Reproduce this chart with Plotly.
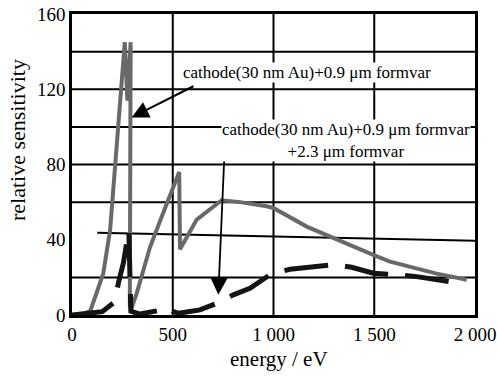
import plotly.graph_objects as go

# Gray series: cathode(30 nm Au)+0.9 µm formvar
e1 = [40, 90, 122, 155, 189, 213, 230, 250, 262, 275, 291, 287, 298, 321, 387, 437, 486, 532, 536,
      619, 743, 834, 966, 999, 1165, 1314, 1495, 1578, 1810, 1959]
s1 = [0, 2, 11.7, 22, 45, 77, 98, 125, 145, 114, 145, 5, 4.4, 11.5, 36, 50, 63, 76, 35,
      50.7, 61, 60, 57.8, 56.9, 47, 40, 32, 28.4, 22, 18.7]

# Black dashed series: + 2.3 µm formvar
e2 = [0, 150, 213, 230, 255, 278, 282, 292, 337, 486, 500, 528, 635, 718, 801, 883, 991, 1082,
      1297, 1388, 1495, 1620, 1711, 1926]
s2 = [0, 1.8, 7, 17, 27.6, 45, 45, 2, 0.5, 3.5, 2, 0.9, 2.7, 6.2, 10.7, 14.2, 22, 24.3,
      26.7, 25.4, 22.2, 21.3, 20.4, 16.9]

x_ticks = [0, 500, 1000, 1500, 2000]
x_ticktext = ["0", "500", "1 000", "1 500", "2 000"]
y_ticks = [0, 40, 80, 120, 160]
h_grid = [20, 60, 80, 100, 120, 140]
v_grid = [500, 1000, 1500]

FONT = "Liberation Serif"

fig = go.Figure()
fig.add_trace(go.Scatter(x=e1, y=s1, mode="lines",
                         line=dict(color="#696969", width=4), showlegend=False))
fig.add_trace(go.Scatter(x=e2, y=s2, mode="lines",
                         line=dict(color="#141414", width=5, dash="44px,17px"), showlegend=False))

shapes = []
for v in h_grid:
    shapes.append(dict(type="line", xref="x", yref="y", x0=0, x1=2000, y0=v, y1=v,
                       line=dict(color="black", width=2), layer="below"))
# slightly tilted 40 line in the scan
shapes.append(dict(type="line", xref="x", yref="y", x0=125, x1=2000, y0=43.7, y1=39.5,
                   line=dict(color="black", width=2), layer="below"))
for v in v_grid:
    shapes.append(dict(type="line", xref="x", yref="y", x0=v, x1=v, y0=0, y1=160,
                       line=dict(color="black", width=2), layer="below"))

annotations = [
    dict(x=296, y=105, ax=610, ay=122, xref="x", yref="y", axref="x", ayref="y",
         text="", showarrow=True, arrowhead=2, arrowsize=1.7, arrowwidth=2, arrowcolor="black"),
    dict(x=726, y=10.7, ax=759, ay=91.7, xref="x", yref="y", axref="x", ayref="y",
         text="", showarrow=True, arrowhead=2, arrowsize=1.9, arrowwidth=1.8, arrowcolor="black"),
    dict(x=1168, y=129, xref="x", yref="y", showarrow=False,
         text="cathode(30 nm Au)+0.9 μm formvar", bgcolor="white", borderpad=0,
         font=dict(family=FONT, size=17, color="black")),
    dict(x=1359, y=92.8, xref="x", yref="y", showarrow=False, align="center",
         text="cathode(30 nm Au)+0.9 μm formvar<br>+2.3 μm formvar", bgcolor="white", borderpad=0,
         font=dict(family=FONT, size=17, color="black")),
    # axis titles
    dict(x=(279 - 72) / 403, y=(315 - 359) / 301, xref="paper", yref="paper", showarrow=False,
         xanchor="center", yanchor="middle", text="energy / eV",
         font=dict(family=FONT, size=21, color="black")),
    dict(x=(17 - 72) / 403, y=(315 - 140) / 301, xref="paper", yref="paper", showarrow=False,
         xanchor="center", yanchor="middle", textangle=-90, text="relative sensitivity",
         font=dict(family=FONT, size=22, color="black")),
]

fig.update_layout(
    width=497, height=377,
    margin=dict(l=72, r=22, t=14, b=62, autoexpand=False),
    paper_bgcolor="white", plot_bgcolor="white",
    font=dict(family=FONT, size=19, color="black"),
    shapes=shapes, annotations=annotations,
    xaxis=dict(range=[0, 2000], tickvals=x_ticks, ticktext=x_ticktext, showgrid=False,
               showline=True, linecolor="black", linewidth=2.5, mirror=True, ticks="",
               zeroline=False, automargin=False,
               tickfont=dict(family=FONT, size=19)),
    yaxis=dict(range=[0, 160], tickvals=y_ticks, showgrid=False,
               showline=True, linecolor="black", linewidth=2.5, mirror=True, ticks="",
               zeroline=False, automargin=False,
               tickfont=dict(family=FONT, size=19)),
)

fig.write_html("out.html")
